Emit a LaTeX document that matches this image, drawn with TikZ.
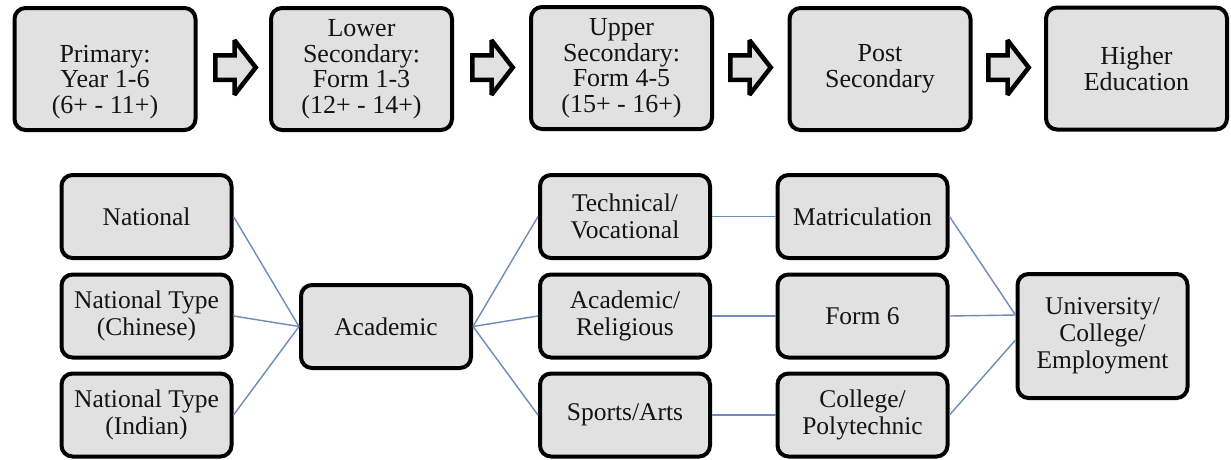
\documentclass[tikz,border=0pt]{standalone}
\usepackage{fontspec}
\setmainfont{Liberation Serif}
\usetikzlibrary{calc}
\definecolor{boxgray}{RGB}{225,225,225}
\definecolor{linkblue}{RGB}{110,140,185}
\definecolor{txt}{RGB}{20,20,20}
\newcommand\blockarrow[1]{%
  \draw[blockarr] (#1-20.25,-55.25) -- (#1-1,-55.25) -- (#1-1,-40.25) -- (#1+20.25,-67.5)
    -- (#1-1,-94.75) -- (#1-1,-79.75) -- (#1-20.25,-79.75) -- cycle;}
\begin{document}
\begin{tikzpicture}[x=1pt,y=1pt,
  every node/.style={font=\fontsize{25.5}{27}\selectfont, text=txt, align=center, inner sep=0pt},
  topbox/.style={draw=black, line width=4pt, fill=boxgray, rounded corners=11pt, minimum width=181pt, minimum height=122pt, font=\fontsize{26}{25.5}\selectfont},
  lowbox/.style={draw=black, line width=4pt, fill=boxgray, rounded corners=11pt, minimum width=170pt, minimum height=83pt},
  link/.style={draw=linkblue, line width=1.4pt},
  blockarr/.style={draw=black, line width=4.5pt, fill=boxgray, line join=miter, miter limit=2}]
\useasboundingbox[fill=white] (0,0) rectangle (1231,-459);

% top row
\node[topbox] (prim) at (105,-69) {\strut\\Primary:\\Year 1-6\\(6+ - 11+)};
\node[topbox] (lsec) at (361.5,-69) {Lower\\Secondary:\\Form 1-3\\(12+ - 14+)};
\node[topbox] (usec) at (621.5,-68) {Upper\\Secondary:\\Form 4-5\\(15+ - 16+)};
\node[topbox] (post) at (880,-69) {Post\\Secondary};
\node[topbox] (high) at (1136.5,-68.5) {Higher\\Education};
\blockarrow{235.5}
\blockarrow{492.5}
\blockarrow{750.5}
\blockarrow{1008.5}

% bottom area
\node[lowbox] (nat) at (146.5,-216.5) {National};
\node[lowbox] (natc) at (146.5,-316) {National Type\\(Chinese)};
\node[lowbox] (nati) at (146.5,-415) {National Type\\(Indian)};
\node[lowbox] (acad) at (386,-326.5) {Academic};
\node[lowbox] (tech) at (625,-216.5) {Technical/\\Vocational};
\node[lowbox] (acrel) at (625,-316) {Academic/\\Religious};
\node[lowbox] (sport) at (625,-415) {Sports/Arts};
\node[lowbox] (matric) at (862.5,-216.5) {Matriculation};
\node[lowbox] (form6) at (862.5,-316) {Form 6};
\node[lowbox] (coll) at (862.5,-415) {College/\\Polytechnic};
\node[lowbox, minimum height=124pt] (univ) at (1102.5,-336) {University/\\College/\\Employment};

\coordinate (uin) at ($(univ.west)+(0,21)$);
\coordinate (uinb) at ($(univ.west)+(0,-4)$);

\path[link] (nat.east) -- (acad.west);
\path[link] (natc.east) -- (acad.west);
\path[link] (nati.east) -- (acad.west);
\path[link] (acad.east) -- (tech.west);
\path[link] (acad.east) -- (acrel.west);
\path[link] (acad.east) -- (sport.west);
\path[link] (tech.east) -- (matric.west);
\path[link] (acrel.east) -- (form6.west);
\path[link] (sport.east) -- (coll.west);
\path[link] (matric.east) -- (uin);
\path[link] (form6.east) -- (uin);
\path[link] (coll.east) -- (uinb);
\end{tikzpicture}
\end{document}
